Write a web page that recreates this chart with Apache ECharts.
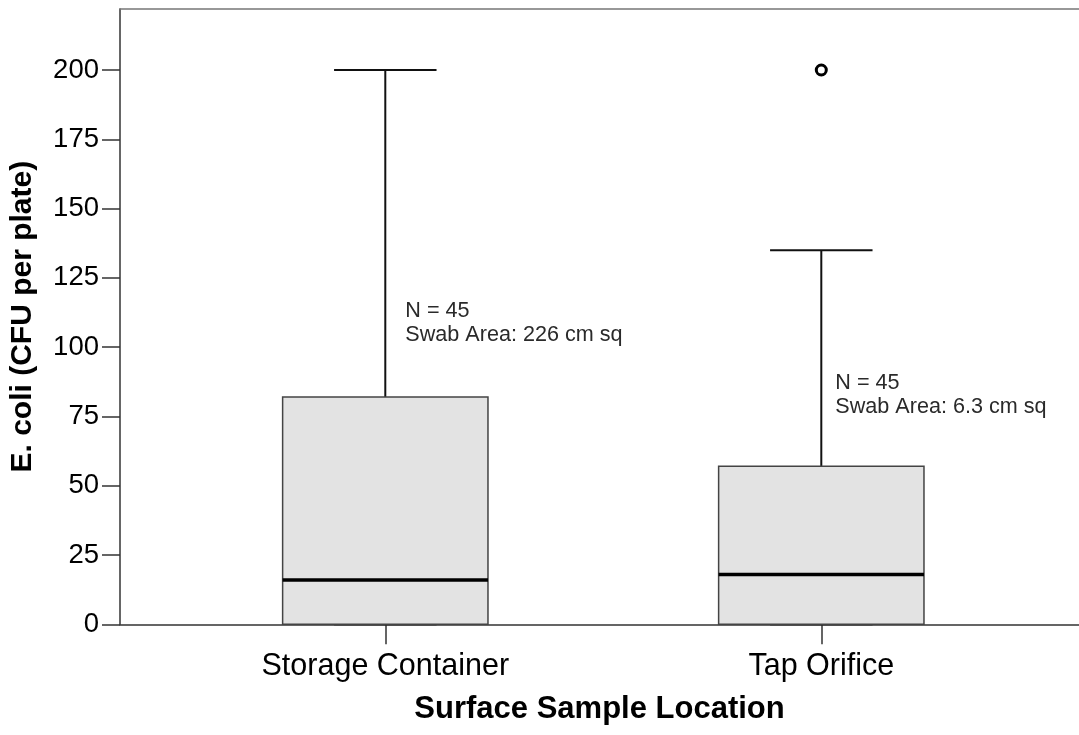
<!DOCTYPE html>
<html>
<head>
<meta charset="utf-8">
<script src="https://cdn.jsdelivr.net/npm/echarts@6/dist/echarts.min.js"></script>
<style>html,body{margin:0;padding:0;background:#fff;}#c{width:1079px;height:735px;}</style>
</head>
<body>
<div id="c"></div>
<script>
// ---- data ----
const categories = ['Storage Container', 'Tap Orifice'];
const whiskerLow = [0, 0];
const q1 = [0, 0];
const median = [16, 18];
const q3 = [82, 57];
const whiskerHigh = [200, 135];
const outliers = [[1, 200]];           // [category index, value]
const noteN = ['N = 45', 'N = 45'];
const noteArea = ['Swab Area: 226 cm sq', 'Swab Area: 6.3 cm sq'];
const noteAt = [116, 90];              // value level of the note's top
const yTicks = { min: 0, max: 222, interval: 25 };
const yTitle = 'E. coli (CFU per plate)';
const xTitle = 'Surface Sample Location';

const FONT = "'Liberation Sans', Arial, Helvetica, sans-serif";
const boxData = categories.map((c, i) => [i, whiskerLow[i], q1[i], median[i], q3[i], whiskerHigh[i]]);
const noteDx = [20, 14];

const chart = echarts.init(document.getElementById('c'), null, { renderer: 'canvas' });

function renderBox(params, api) {
  const i = api.value(0);
  const band = api.size([1, 0])[0];
  const halfBox = band * 0.2355;
  const halfCap = band * 0.1175;
  const pLo = api.coord([i, api.value(1)]);
  const pQ1 = api.coord([i, api.value(2)]);
  const pMed = api.coord([i, api.value(3)]);
  const pQ3 = api.coord([i, api.value(4)]);
  const pHi = api.coord([i, api.value(5)]);
  const cx = pQ1[0];
  const pNote = api.coord([i, noteAt[i]]);
  const whisk = { stroke: '#111', lineWidth: 2 };
  return {
    type: 'group',
    children: [
      { type: 'line', shape: { x1: cx, y1: pQ3[1], x2: cx, y2: pHi[1] }, style: whisk },
      { type: 'line', shape: { x1: cx - halfCap, y1: pHi[1], x2: cx + halfCap, y2: pHi[1] }, style: whisk },
      { type: 'line', shape: { x1: cx, y1: pLo[1], x2: cx, y2: pQ1[1] }, style: whisk },
      { type: 'line', shape: { x1: cx - halfCap, y1: pLo[1], x2: cx + halfCap, y2: pLo[1] }, style: whisk },
      { type: 'rect', shape: { x: cx - halfBox, y: pQ3[1], width: halfBox * 2, height: pQ1[1] - pQ3[1] },
        style: { fill: '#e3e3e3', stroke: '#444', lineWidth: 1.5 } },
      { type: 'line', shape: { x1: cx - halfBox, y1: pMed[1], x2: cx + halfBox, y2: pMed[1] },
        style: { stroke: '#000', lineWidth: 3.5 } },
      { type: 'text', x: cx + noteDx[i], y: pNote[1] - 4,
        style: { text: noteN[i] + '\n' + noteArea[i], fill: '#2a2a2a', font: "21.6px " + FONT,
                 lineHeight: 24, align: 'left', verticalAlign: 'top' } }
    ]
  };
}

const option = {
  backgroundColor: '#fff',
  animation: false,
  textStyle: { fontFamily: FONT },
  grid: [
    { left: 120, right: 0, top: 9, bottom: 110.7 },
    { left: 167.3, right: 39.7, top: 9, bottom: 110.7 }
  ],
  xAxis: [
    { type: 'category', gridIndex: 0, data: [''], position: 'bottom',
      axisLine: { show: true, lineStyle: { color: '#333', width: 1.5 } },
      axisTick: { show: false }, axisLabel: { show: false }, splitLine: { show: false },
      name: xTitle, nameLocation: 'middle', nameGap: 70,
      nameTextStyle: { fontFamily: FONT, fontWeight: 'bold', fontSize: 31, color: '#000' } },
    { type: 'category', gridIndex: 0, data: [''], position: 'top',
      axisLine: { show: true, lineStyle: { color: '#777', width: 1.5 } },
      axisTick: { show: false }, axisLabel: { show: false }, splitLine: { show: false } },
    { type: 'category', gridIndex: 1, data: categories, position: 'bottom', boundaryGap: true,
      axisLine: { show: false },
      axisTick: { show: true, alignWithLabel: true, length: 20, lineStyle: { color: '#333', width: 1.5 } },
      axisLabel: { show: true, fontFamily: FONT, fontSize: 30.5, color: '#000', margin: 27 },
      splitLine: { show: false } }
  ],
  yAxis: [
    { type: 'value', gridIndex: 0, min: yTicks.min, max: yTicks.max, interval: yTicks.interval,
      axisLine: { show: true, lineStyle: { color: '#333', width: 1.5 } },
      axisTick: { show: true, length: 18, lineStyle: { color: '#333', width: 1.5 } },
      axisLabel: { fontFamily: FONT, fontSize: 27.5, color: '#000', margin: 21,
        showMaxLabel: false, padding: [4, 0, 0, 0] },
      splitLine: { show: false },
      name: yTitle, nameLocation: 'middle', nameGap: 82,
      nameTextStyle: { fontFamily: FONT, fontWeight: 'bold', fontSize: 30, color: '#000' } },
    { type: 'value', gridIndex: 1, min: yTicks.min, max: yTicks.max, interval: yTicks.interval, show: false }
  ],
  series: [
    { type: 'custom', xAxisIndex: 2, yAxisIndex: 1, renderItem: renderBox, data: boxData, clip: false },
    { type: 'scatter', xAxisIndex: 2, yAxisIndex: 1, data: outliers, symbol: 'circle', symbolSize: 10,
      itemStyle: { color: '#fff', borderColor: '#000', borderWidth: 3, opacity: 1 } }
  ]
};
chart.setOption(option);
</script>
</body>
</html>
